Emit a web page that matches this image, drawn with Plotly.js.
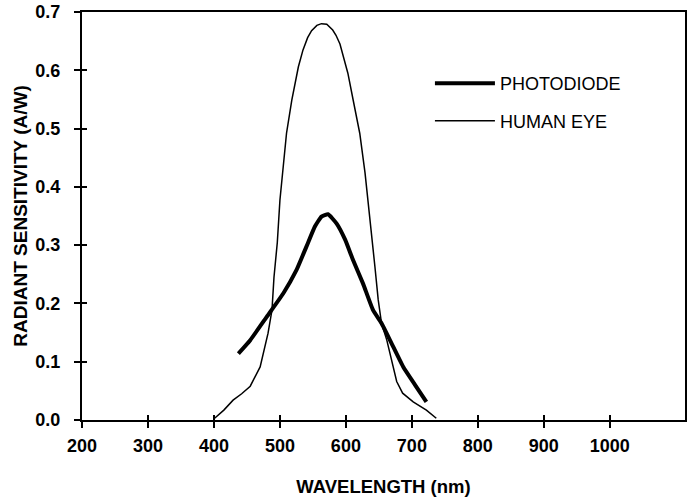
<!DOCTYPE html>
<html>
<head>
<meta charset="utf-8">
<script src="https://cdn.plot.ly/plotly-3.0.1.min.js"></script>
<style>
  html, body { margin: 0; padding: 0; background: #fff; }
  #chart { width: 689px; height: 504px; }
</style>
</head>
<body>
<div id="chart"></div>
<script>
// wavelength (nm) and sensitivity (A/W)
const eyeNm = [401, 415, 429, 442, 455, 470, 482, 488, 491, 496, 500, 505, 510, 518, 528, 535, 542, 548, 556, 563, 571, 580, 585, 591, 597, 603, 611, 621, 629, 636, 639, 644, 649, 654, 662, 669, 677, 686, 702, 722, 737];
const eyeVal = [0.003, 0.017, 0.034, 0.045, 0.058, 0.091, 0.149, 0.189, 0.245, 0.304, 0.377, 0.434, 0.492, 0.549, 0.606, 0.635, 0.656, 0.668, 0.677, 0.680, 0.679, 0.669, 0.660, 0.645, 0.622, 0.595, 0.549, 0.492, 0.424, 0.343, 0.321, 0.263, 0.206, 0.166, 0.137, 0.103, 0.066, 0.046, 0.031, 0.017, 0.003];

const photoNm = [437, 455, 480, 505, 525, 540, 553, 563, 573, 586, 599, 611, 626, 641, 654, 669, 687, 705, 722];
const photoVal = [0.114, 0.137, 0.177, 0.217, 0.257, 0.297, 0.332, 0.349, 0.353, 0.337, 0.309, 0.274, 0.234, 0.189, 0.166, 0.132, 0.091, 0.060, 0.031];

const xTicks = [200, 300, 400, 500, 600, 700, 800, 900, 1000];
const yTicks = [0, 0.1, 0.2, 0.3, 0.4, 0.5, 0.6, 0.7];

const font = "Liberation Sans, Arial, sans-serif";

const traces = [
  {
    x: photoNm, y: photoVal, name: "PHOTODIODE",
    type: "scatter", mode: "lines",
    line: { color: "#000", width: 4, shape: "spline", smoothing: 0.4 },
    legendgroup: "a"
  },
  {
    x: eyeNm, y: eyeVal, name: "HUMAN EYE",
    type: "scatter", mode: "lines",
    line: { color: "#000", width: 1.5 },
    legendgroup: "b"
  },
  // empty trace so the overlay axes (inner half of the cross ticks) get drawn
  { x: [], y: [], xaxis: "x2", yaxis: "y2", showlegend: false, hoverinfo: "skip" }
];

const layout = {
  width: 689, height: 504,
  margin: { l: 82, r: 4, t: 12, b: 84 },
  paper_bgcolor: "#fff", plot_bgcolor: "#fff",
  font: { family: font, color: "#000" },
  showlegend: true,
  legend: {
    x: 0.577, y: 0.87, xanchor: "left", yanchor: "top",
    itemwidth: 60,
    font: { size: 18, family: font }, tracegroupgap: 11,
    bgcolor: "rgba(0,0,0,0)"
  },
  xaxis: {
    range: [200, 1114], tickvals: xTicks, ticktext: xTicks.map(String),
    showgrid: false, zeroline: false,
    showline: true, linecolor: "#000", linewidth: 2, mirror: true,
    ticks: "outside", ticklen: 6, tickwidth: 2, tickcolor: "#000",
    ticklabelstandoff: 2,
    tickfont: { size: 18, family: font, weight: "bold" },
    title: { text: "WAVELENGTH (nm)", font: { size: 18.5, family: font, weight: "bold" }, standoff: 25 }
  },
  yaxis: {
    range: [0, 0.7], tickvals: yTicks, tickformat: ".1f",
    showgrid: false, zeroline: false,
    showline: true, linecolor: "#000", linewidth: 2, mirror: true,
    ticks: "outside", ticklen: 6, tickwidth: 2, tickcolor: "#000",
    ticklabelstandoff: 10,
    tickfont: { size: 18, family: font, weight: "bold" },
    title: { text: "RADIANT SENSITIVITY (A/W)", font: { size: 19, family: font, weight: "bold" }, standoff: 3 }
  },
  xaxis2: {
    overlaying: "x", matches: "x", anchor: "y2", tickvals: xTicks,
    showgrid: false, zeroline: false, showline: false, showticklabels: false,
    ticks: "inside", ticklen: 5, tickwidth: 2, tickcolor: "#000"
  },
  yaxis2: {
    overlaying: "y", matches: "y", anchor: "x2", tickvals: yTicks,
    showgrid: false, zeroline: false, showline: false, showticklabels: false,
    ticks: "inside", ticklen: 5, tickwidth: 2, tickcolor: "#000"
  }
};

Plotly.newPlot("chart", traces, layout, { displayModeBar: false, staticPlot: true });
</script>
</body>
</html>
